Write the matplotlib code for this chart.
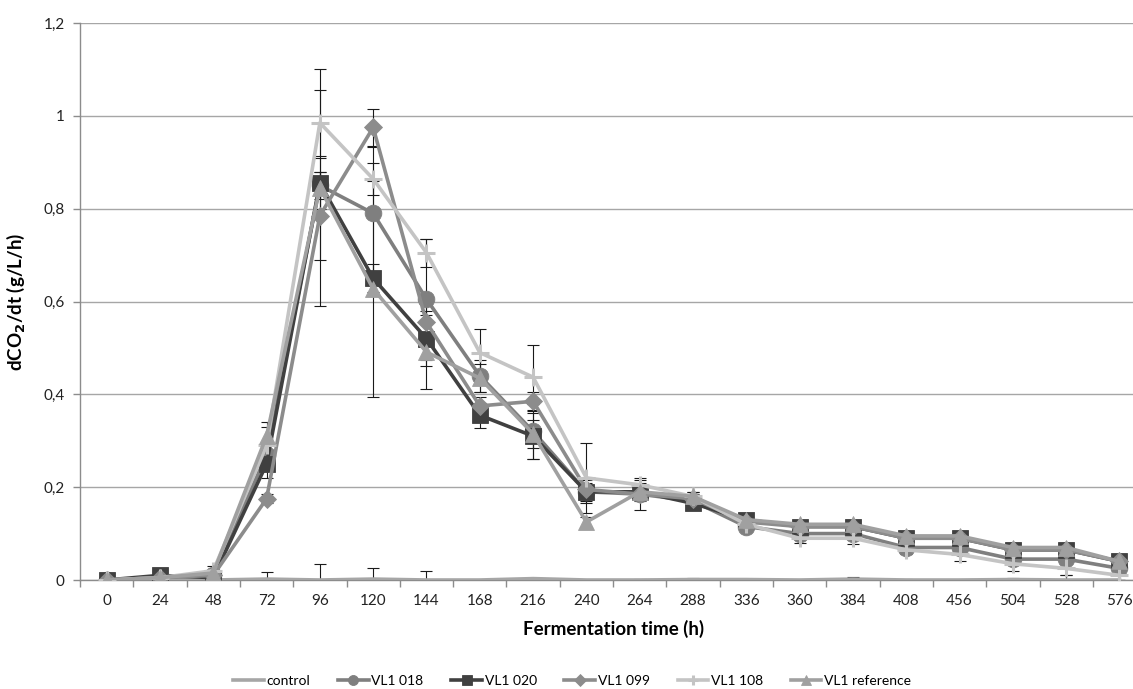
import matplotlib
matplotlib.use("Agg")
import matplotlib.pyplot as plt
import numpy as np

hours = ["0", "24", "48", "72", "96", "120", "144", "168", "216", "240",
         "264", "288", "336", "360", "384", "408", "456", "504", "528", "576"]

control = [0, 0, 0, 0.002, 0, 0.002, 0, 0, 0.003, 0,
           0, 0.001, 0.001, 0, 0.002, 0, 0, 0.001, 0, 0]
control_err = [0, 0, 0, 0.015, 0.035, 0.024, 0.02, 0, 0, 0,
               0.003, 0.004, 0, 0, 0.004, 0.003, 0, 0.004, 0.01, 0]

vl1_018 = [0, 0.005, 0.01, 0.27, 0.85, 0.79, 0.605, 0.44, 0.32, 0.19,
           0.185, 0.17, 0.115, 0.10, 0.10, 0.07, 0.07, 0.045, 0.045, 0.025]
vl1_018_err = [0, 0, 0, 0.02, 0.03, 0.143, 0.13, 0.035, 0.06, 0.02,
               0.035, 0.01, 0.01, 0.01, 0.01, 0.01, 0.01, 0.01, 0.01, 0.005]

vl1_020 = [0, 0.01, 0.005, 0.25, 0.855, 0.65, 0.52, 0.355, 0.31, 0.19,
           0.19, 0.165, 0.13, 0.115, 0.115, 0.09, 0.09, 0.065, 0.065, 0.04]
vl1_020_err = [0, 0, 0, 0.03, 0.055, 0.03, 0.06, 0.027, 0.05, 0.025,
               0.02, 0.01, 0.005, 0.005, 0.005, 0.005, 0.005, 0.005, 0.005, 0.005]

vl1_099 = [0, 0.005, 0.01, 0.175, 0.785, 0.975, 0.555, 0.375, 0.385, 0.195,
           0.185, 0.175, 0.125, 0.115, 0.115, 0.09, 0.09, 0.065, 0.065, 0.04]
vl1_099_err = [0, 0, 0, 0.01, 0.095, 0.04, 0.04, 0.02, 0.02, 0.01,
               0.01, 0.01, 0.005, 0.005, 0.005, 0.005, 0.005, 0.005, 0.005, 0.005]

vl1_108 = [0, 0.005, 0.02, 0.29, 0.985, 0.864, 0.705, 0.49, 0.437, 0.22,
           0.205, 0.18, 0.12, 0.09, 0.09, 0.065, 0.055, 0.035, 0.025, 0.01]
vl1_108_err = [0, 0, 0.01, 0.04, 0.071, 0.035, 0.03, 0.05, 0.07, 0.075,
               0.01, 0.01, 0.01, 0.01, 0.012, 0.01, 0.015, 0.015, 0.015, 0.01]

vl1_ref = [0, 0.005, 0.015, 0.31, 0.845, 0.627, 0.491, 0.435, 0.315, 0.125,
           0.19, 0.18, 0.13, 0.12, 0.12, 0.095, 0.095, 0.07, 0.07, 0.04]
vl1_ref_err = [0, 0, 0, 0.03, 0.255, 0.233, 0.08, 0.03, 0.03, 0.01,
               0.01, 0.01, 0.005, 0.005, 0.005, 0.005, 0.005, 0.005, 0.005, 0.005]

names = ["control", "VL1 018", "VL1 020", "VL1 099", "VL1 108", "VL1 reference"]
values = [control, vl1_018, vl1_020, vl1_099, vl1_108, vl1_ref]
errors = [control_err, vl1_018_err, vl1_020_err, vl1_099_err, vl1_108_err, vl1_ref_err]

colors = ["#a6a6a6", "#7f7f7f", "#404040", "#8c8c8c", "#c4c4c4", "#a0a0a0"]
markers = [None, "o", "s", "D", "+", "^"]
msizes = [0, 12, 11, 9.5, 13, 12]

plt.rcParams["font.family"] = ["Lato", "DejaVu Sans"]

fig = plt.figure(figsize=(11.33, 6.89), dpi=100)
# axes run a little past the right edge of the canvas
ax = fig.add_axes([0.0706, 0.1582, 0.941, 0.8084])

x = np.arange(len(hours))
handles = []
for name, y, err, c, m, ms in zip(names, values, errors, colors, markers, msizes):
    ax.errorbar(x, y, yerr=err, fmt="none", ecolor="#1a1a1a", elinewidth=0.8,
                capsize=4, capthick=0.8, zorder=2)
    mew = 2.2 if m == "+" else 0.6
    line, = ax.plot(x, y, color=c, linewidth=2.6, marker=m, markersize=ms,
                    markerfacecolor=c, markeredgecolor=c, markeredgewidth=mew,
                    label=name, zorder=3)
    handles.append(line)

ax.set_xlim(-0.5, len(hours) - 0.5)
ax.set_ylim(0, 1.2)
ax.set_yticks(np.arange(0, 1.21, 0.2))
ax.set_yticklabels(["0", "0,2", "0,4", "0,6", "0,8", "1", "1,2"])
ax.set_xticks(x)
ax.set_xticklabels(hours)
ax.set_xticks(np.arange(-0.5, len(hours), 1.0), minor=True)
ax.tick_params(axis="x", which="major", length=0, pad=10, labelsize=11, colors="#222222")
ax.tick_params(axis="x", which="minor", length=5, color="#8c8c8c", width=1)
ax.tick_params(axis="y", which="major", length=5, color="#8c8c8c", width=1,
               pad=6, labelsize=11, labelcolor="#222222")

ax.grid(axis="y", color="#a6a6a6", linewidth=1)
ax.set_axisbelow(True)
for side in ["top", "right"]:
    ax.spines[side].set_visible(False)
for side in ["left", "bottom"]:
    ax.spines[side].set_color("#8c8c8c")
    ax.spines[side].set_linewidth(1)

ax.set_xlabel("Fermentation time (h)", fontsize=13.5, fontweight="bold", labelpad=9)
ax.set_ylabel("dCO$_\\mathbf{2}$/dt (g/L/h)", fontsize=13.5, fontweight="bold", labelpad=12)

fig.legend(handles=handles, loc="lower center", bbox_to_anchor=(0.505, -0.015),
           ncol=6, frameon=False, fontsize=10, handlelength=2.2, handletextpad=0.2,
           columnspacing=2.0, markerscale=0.6)

fig.savefig("out.png", dpi=100)
